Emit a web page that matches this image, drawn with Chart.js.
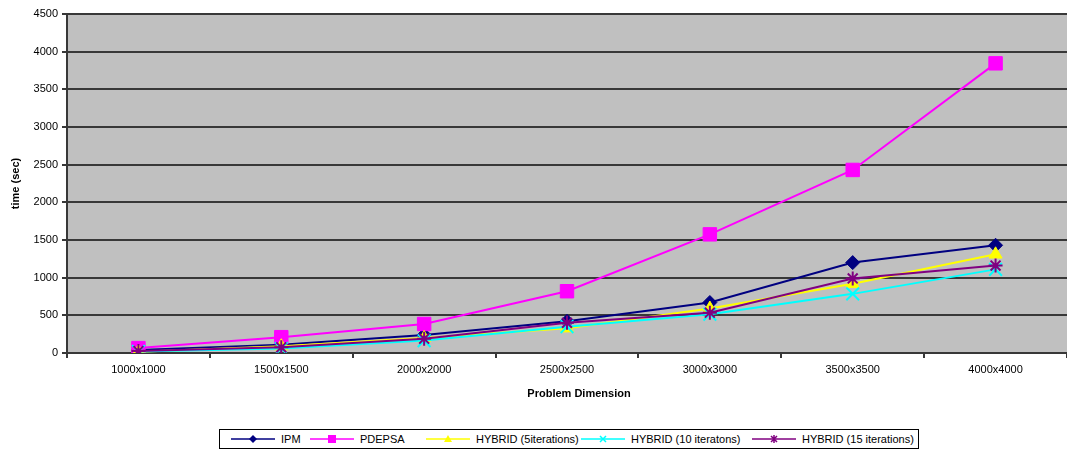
<!DOCTYPE html>
<html>
<head>
<meta charset="utf-8">
<script src="https://cdn.jsdelivr.net/npm/chart.js@4/dist/chart.umd.min.js"></script>
<style>
  html, body { margin: 0; padding: 0; background: #fff; }
  #wrap { position: relative; width: 1067px; height: 455px; overflow: hidden; }
  #chart { position: absolute; left: 0; top: 0; }
  #xtitle { position: absolute; top: 387px; left: 479px; width: 200px; text-align: center;
            font: bold 11px "Liberation Sans", Arial, sans-serif; color: #000; }
  #legend { position: absolute; left: 219px; top: 429px; width: 700px; height: 20px;
            border: 1px solid #000; background: #fff; box-sizing: border-box; }
  .item { position: absolute; top: 0; height: 18px; display: flex; align-items: center; }
  .item span { font: 11px "Liberation Sans", Arial, sans-serif; color: #000; margin-left: 6px; white-space: nowrap; }
</style>
</head>
<body>
<div id="wrap">
  <canvas id="chart" width="1078" height="455"></canvas>
  <div id="xtitle">Problem Dimension</div>
  <div id="legend"></div>
</div>
<script>
// Problem sizes on the x axis
const dimensions = ['1000x1000', '1500x1500', '2000x2000', '2500x2500', '3000x3000', '3500x3500', '4000x4000'];

// Run times in seconds
const ipmTimes    = [40, 110, 240, 420, 670, 1200, 1430];
const pdepsaTimes = [65, 210, 385, 820, 1575, 2430, 3845];
const hybrid5     = [15, 90, 200, 330, 590, 920, 1310];
const hybrid10    = [20, 60, 165, 350, 515, 785, 1110];
const hybrid15    = [25, 75, 190, 400, 535, 990, 1160];

// Y axis tick range
const yMin = 0, yMax = 4500, yStep = 500;

const seriesNames = ['IPM', 'PDEPSA', 'HYBRID (5iterations)', 'HYBRID (10 iteratons)', 'HYBRID (15 iterations)'];

const FONT = '"Liberation Sans", Arial, sans-serif';
const GRID = '#383838';

const styles = [
  { color: '#000080', fill: '#000080', shape: 'rectRot', r: 7, bw: 1 },
  { color: '#ff00ff', fill: '#ff00ff', shape: 'rect', r: 9.5, bw: 1 },
  { color: '#ffff00', fill: '#ffff00', shape: 'triangle', r: 7.5, bw: 1 },
  { color: '#00ffff', fill: '#00ffff', shape: 'crossRot', r: 9, bw: 2 },
  { color: '#800080', fill: '#800080', shape: 'star', r: 7, bw: 2 }
];
const values = [ipmTimes, pdepsaTimes, hybrid5, hybrid10, hybrid15];

const datasets = values.map((v, i) => ({
  label: seriesNames[i],
  data: v,
  borderColor: styles[i].color,
  backgroundColor: styles[i].fill,
  borderWidth: 2,
  pointStyle: styles[i].shape,
  pointRadius: styles[i].r,
  pointBorderWidth: styles[i].bw,
  pointBorderColor: styles[i].color,
  pointBackgroundColor: styles[i].fill,
  tension: 0,
  order: values.length - i
}));

// Grey plot background behind the series
const plotBackground = {
  id: 'plotBackground',
  beforeDraw(chart) {
    const { ctx, chartArea: a } = chart;
    ctx.save();
    ctx.fillStyle = '#c0c0c0';
    ctx.fillRect(a.left, a.top, a.right - a.left, a.bottom - a.top);
    ctx.restore();
  }
};

new Chart(document.getElementById('chart'), {
  type: 'line',
  data: { labels: dimensions, datasets },
  options: {
    responsive: false,
    animation: false,
    layout: { padding: { top: 14, left: 0, right: 0, bottom: 0 } },
    plugins: { legend: { display: false }, tooltip: { enabled: false } },
    scales: {
      x: {
        offset: true,
        grid: { offset: true, drawOnChartArea: false, drawTicks: true, tickLength: 5, color: GRID, lineWidth: 2 },
        border: { display: true, color: GRID, width: 2 },
        ticks: { color: '#000', font: { family: FONT, size: 11 }, padding: 5, maxRotation: 0, autoSkip: false },
        afterFit(s) { s.height = 102; }
      },
      y: {
        min: yMin, max: yMax,
        ticks: { stepSize: yStep, color: '#000', font: { family: FONT, size: 11 }, padding: 4,
                 callback: (v) => String(v) },
        grid: { color: GRID, lineWidth: 2, tickLength: 5, drawTicks: true },
        border: { display: true, color: GRID, width: 2 },
        title: { display: true, text: 'time (sec)', color: '#000', font: { family: FONT, size: 11, weight: 'bold' }, padding: { top: 9, bottom: 0 } },
        afterFit(s) { s.width = 67; }
      }
    }
  },
  plugins: [plotBackground]
});

// Legend entries: line segment with its marker, then the name
const legend = document.getElementById('legend');
const iconLeft = [11, 90, 206, 361, 532];
function markerSvg(st) {
  const c = st.color, cx = 22, cy = 9;
  let m = '';
  if (st.shape === 'rectRot') m = `<polygon points="${cx},${cy-4} ${cx+4},${cy} ${cx},${cy+4} ${cx-4},${cy}" fill="${c}"/>`;
  else if (st.shape === 'rect') m = `<rect x="${cx-4}" y="${cy-4}" width="8" height="8" fill="${c}"/>`;
  else if (st.shape === 'triangle') m = `<polygon points="${cx},${cy-4} ${cx+4},${cy+3} ${cx-4},${cy+3}" fill="${c}"/>`;
  else if (st.shape === 'crossRot') m = `<path d="M${cx-3},${cy-3}L${cx+3},${cy+3}M${cx+3},${cy-3}L${cx-3},${cy+3}" stroke="${c}" stroke-width="1.5"/>`;
  else m = `<path d="M${cx-3},${cy-3}L${cx+3},${cy+3}M${cx+3},${cy-3}L${cx-3},${cy+3}M${cx},${cy-4}L${cx},${cy+4}" stroke="${c}" stroke-width="1.5"/>`;
  return `<svg width="44" height="18"><line x1="0" y1="9" x2="44" y2="9" stroke="${c}" stroke-width="1.5"/>${m}</svg>`;
}
seriesNames.forEach((name, i) => {
  const d = document.createElement('div');
  d.className = 'item';
  d.style.left = iconLeft[i] + 'px';
  d.innerHTML = markerSvg(styles[i]) + `<span>${name}</span>`;
  legend.appendChild(d);
});
</script>
</body>
</html>
